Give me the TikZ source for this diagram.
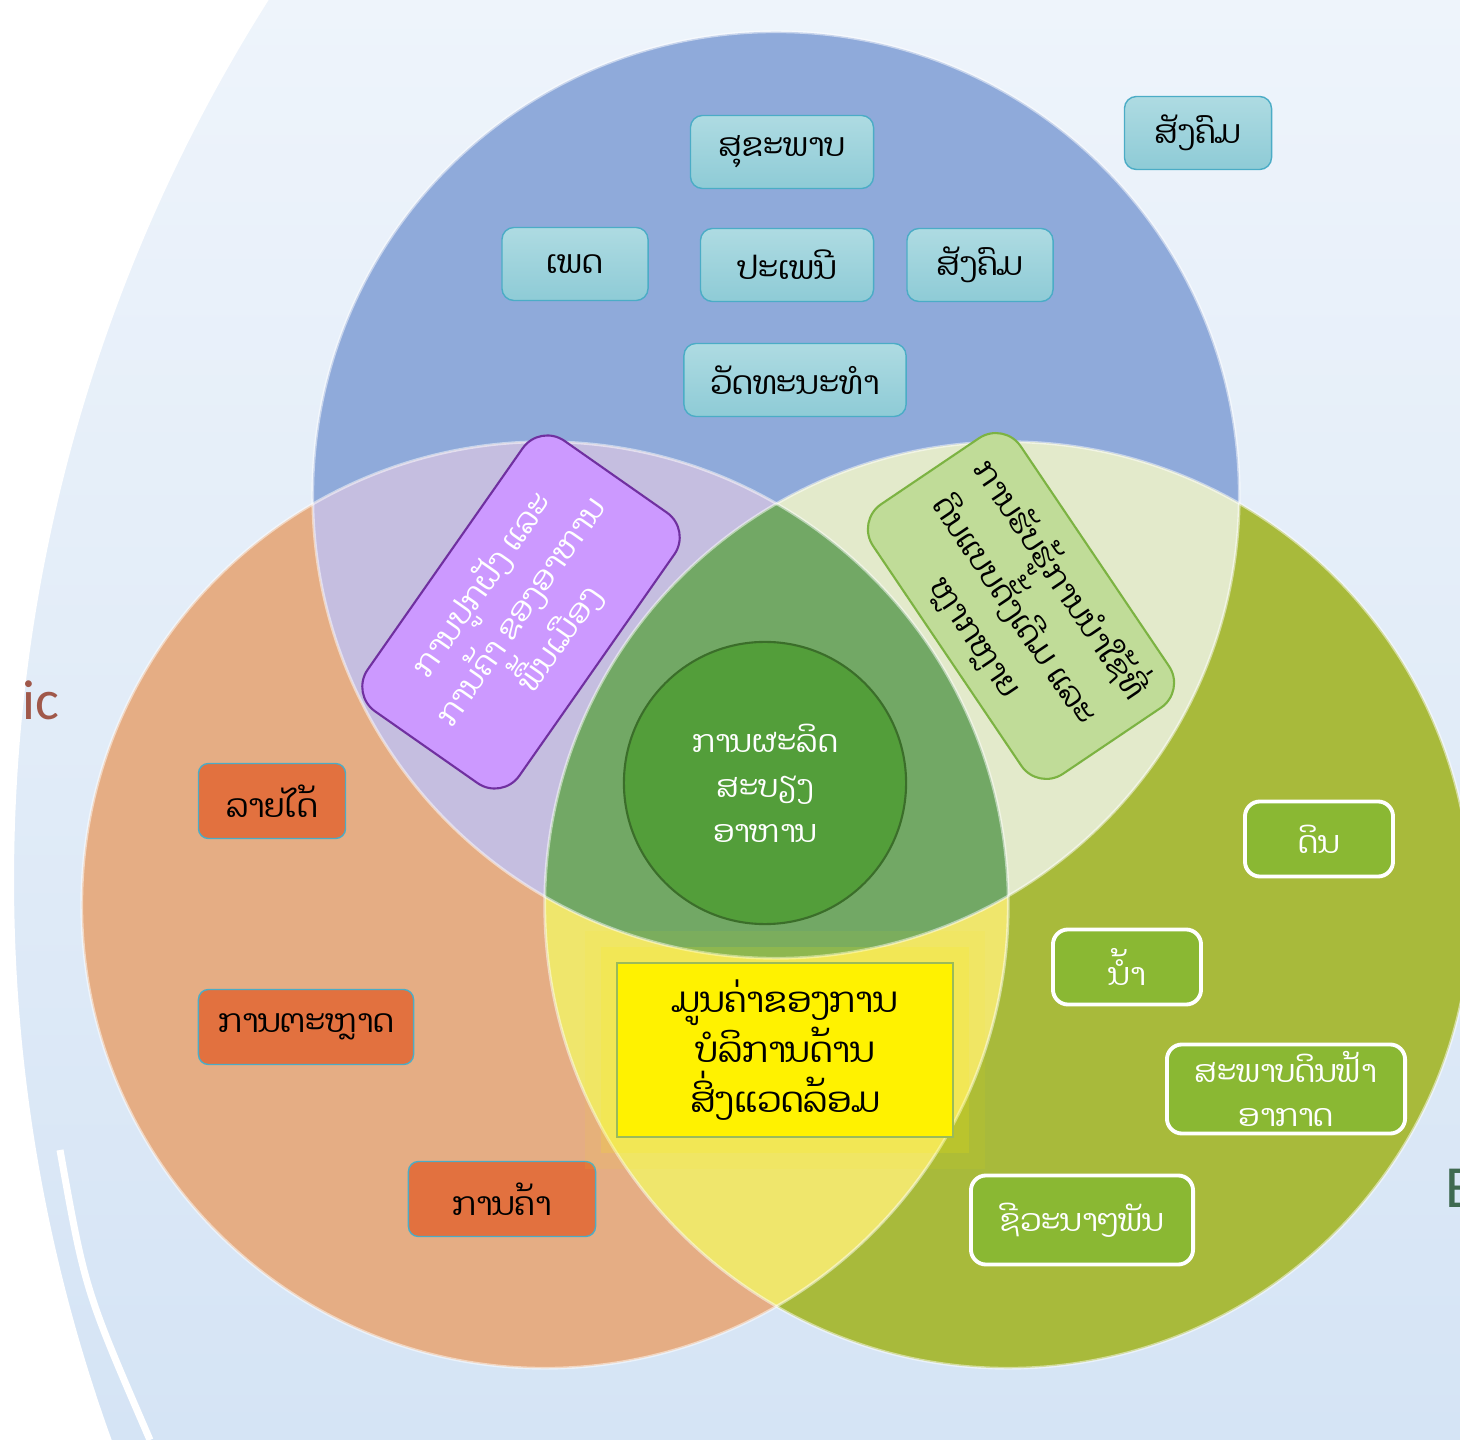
\documentclass[tikz,border=0pt]{standalone}
\usepackage{fontspec}
\setmainfont{Carlito}
\newfontfamily\laofont[Script=Lao]{Dhyana}
\usetikzlibrary{positioning}

\definecolor{skytop}{HTML}{EEF4FB}
\definecolor{skybot}{HTML}{D5E4F5}
\definecolor{bluecirc}{HTML}{8FAADA}
\definecolor{orangecirc}{HTML}{E5AD84}
\definecolor{greencirc}{HTML}{A8BA3B}
\definecolor{lavender}{HTML}{C5BEE0}
\definecolor{paleleaf}{HTML}{E3EACB}
\definecolor{paleyellow}{HTML}{EFE66C}
\definecolor{midgreen}{HTML}{72A865}
\definecolor{foodgreen}{HTML}{539E3A}
\definecolor{foodline}{HTML}{3B6E2A}
\definecolor{tealtop}{HTML}{AEDBE2}
\definecolor{tealbot}{HTML}{8ECBD6}
\definecolor{tealline}{HTML}{4BACC6}
\definecolor{brick}{HTML}{E2713F}
\definecolor{leaf}{HTML}{8AB833}
\definecolor{lilac}{HTML}{CC99FF}
\definecolor{plum}{HTML}{7030A0}
\definecolor{sage}{HTML}{C0DC98}
\definecolor{sageline}{HTML}{7CB342}
\definecolor{yellowline}{HTML}{9BBB59}
\definecolor{rust}{HTML}{A0584A}
\definecolor{pine}{HTML}{3F6A50}

\tikzset{
    social/.style={draw=tealline, top color=tealtop, bottom color=tealbot,
        rounded corners=1.2mm, minimum height=0.73cm, inner sep=0pt,
        font=\laofont\fontsize{9.2}{11}\selectfont},
    economy/.style={draw=tealline, fill=brick, rounded corners=1mm,
        minimum height=0.75cm, inner sep=0pt,
        font=\laofont\fontsize{9.2}{11}\selectfont},
    nature/.style={draw=white, line width=1.1pt, fill=leaf, text=white,
        rounded corners=1.5mm, minimum height=0.75cm, inner sep=0pt, align=center,
        font=\laofont\fontsize{8.8}{12.5}\selectfont},
    overlap/.style={rounded corners=3mm, inner sep=0pt, align=center, line width=0.6pt,
        font=\laofont\fontsize{9}{13.5}\selectfont},
    ring/.style={draw=white, opacity=0.5, line width=0.8pt}
}

\begin{document}
\begin{tikzpicture}[x=0.01cm, y=-0.01cm]
\clip (0,0) rectangle (1460,1440);
% background
\fill[top color=skytop, bottom color=skybot] (0,0) rectangle (1460,1440);
\fill[white, even odd rule] (0,0) rectangle (1460,1440) (1661,880) circle[radius=16.46cm];
\draw[white, line width=2pt] (60,1150) .. controls (85,1290) .. (150,1440);

% circles
\coordinate (social) at (776,495);
\coordinate (economic) at (545,905);
\coordinate (environment) at (1008,905);
\fill[bluecirc] (social) circle[radius=4.63cm];
\fill[orangecirc] (economic) circle[radius=4.63cm];
\fill[greencirc] (environment) circle[radius=4.63cm];
\begin{scope}
    \clip (economic) circle[radius=4.63cm];
    \fill[paleyellow] (environment) circle[radius=4.63cm];
\end{scope}
\begin{scope}
    \clip (social) circle[radius=4.63cm];
    \fill[lavender] (economic) circle[radius=4.63cm];
    \fill[paleleaf] (environment) circle[radius=4.63cm];
    \clip (economic) circle[radius=4.63cm];
    \fill[midgreen] (environment) circle[radius=4.63cm];
\end{scope}
\draw[ring] (social) circle[radius=4.63cm];
\draw[ring] (economic) circle[radius=4.63cm];
\draw[ring] (environment) circle[radius=4.63cm];

% cut-off titles
\node[text=rust, anchor=east, inner sep=0pt, font=\fontsize{16}{18}\selectfont] (econtitle) at (60,700) {ic};
\node[text=pine, anchor=west, inner sep=0pt, font=\fontsize{17}{19}\selectfont] (envtitle) at (1445,1188) {E};

% social
\node[social, minimum width=1.83cm] (health) at (782,152) {ສຸຂະພາບ};
\node[social, minimum width=1.46cm] (gender) at (575,264) {ເພດ};
\node[social, minimum width=1.73cm] (custom) at (787,265) {ປະເພນີ};
\node[social, minimum width=1.46cm] (society) at (980,265) {ສັງຄົມ};
\node[social, minimum width=2.22cm] (culture) at (795,380) {ວັດທະນະທຳ};
\node[social, minimum width=1.47cm] (societyb) at (1198,133) {ສັງຄົມ};

% economic
\node[economy, minimum width=1.47cm] (income) at (272,801) {ລາຍໄດ້};
\node[economy, minimum width=2.15cm] (market) at (306,1027) {ການຕະຫຼາດ};
\node[economy, minimum width=1.87cm] (trade) at (502,1199) {ການຄ້າ};

% environment
\node[nature, minimum width=1.48cm] (soil) at (1319,839) {ດິນ};
\node[nature, minimum width=1.48cm] (water) at (1127,967) {ນ້ຳ};
\node[nature, minimum width=2.38cm, minimum height=0.89cm] (climate) at (1286,1089) {ສະພາບດິນຟ້າ\\ອາກາດ};
\node[nature, minimum width=2.22cm, minimum height=0.89cm] (biodiv) at (1082,1220) {ຊີວະນາໆພັນ};

% overlaps
\node[overlap, rotate=55, fill=lilac, draw=plum, text=white,
    minimum width=3.3cm, minimum height=1.85cm] (farming) at (521,612)
    {ການປູກຝັງ ແລະ\\ການຄ້າ ຂອງອາຫານ\\ພື້ນເມືອງ};
\node[overlap, rotate=-56, fill=sage, draw=sageline,
    minimum width=3.25cm, minimum height=1.78cm] (landuse) at (1021,606)
    {ການຮັບຮູ້ການນຳໃຊ້ທີ່\\ດິນແບບດັ້ງເດີມ ແລະ\\ຫຼາກຫຼາຍ};

\node[circle, fill=foodgreen, draw=foodline, line width=0.6pt, minimum size=2.82cm,
    text=white, align=center, font=\laofont\fontsize{8.8}{12.8}\selectfont] (food) at (765,783)
    {ການຜະລິດ\\ສະບຽງ\\ອາຫານ};
\node[fill=yellow, draw=yellowline, line width=0.6pt, minimum width=3.36cm, minimum height=1.74cm,
    preaction={draw=yellow, opacity=0.07, line width=18pt, rounded corners=8pt},
    preaction={draw=yellow, opacity=0.15, line width=9pt, rounded corners=4pt},
    align=center, font=\laofont\fontsize{10}{14.2}\selectfont] (value) at (785,1050)
    {ມູນຄ່າຂອງການ\\ບໍລິການດ້ານ\\ສິ່ງແວດລ້ອມ};
\end{tikzpicture}
\end{document}
